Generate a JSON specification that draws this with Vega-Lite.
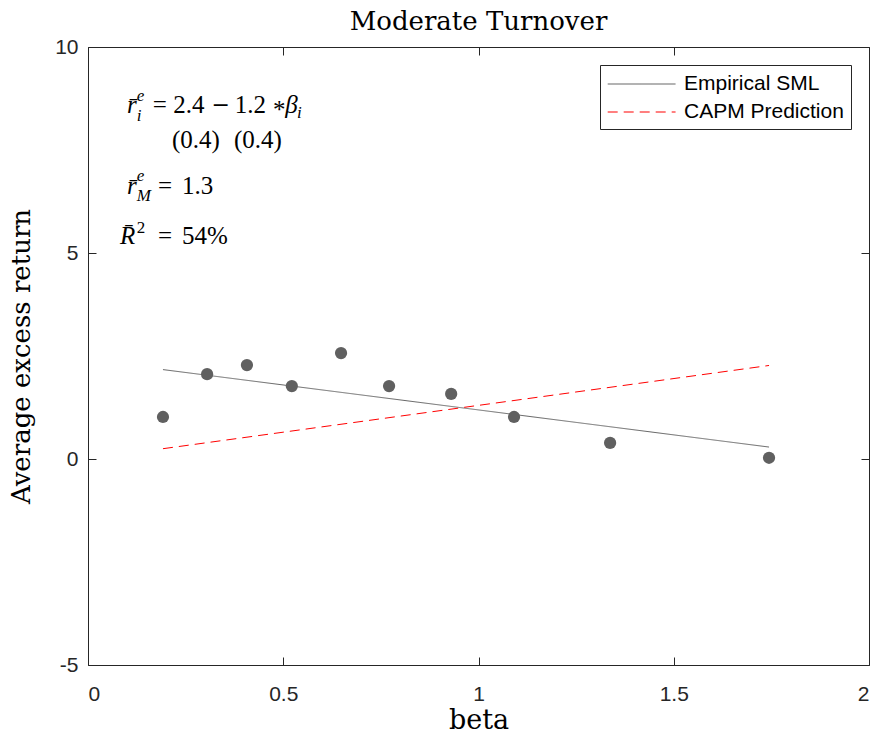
{
  "$schema": "https://vega.github.io/schema/vega-lite/v6.json",
  "autosize": "none",
  "width": 781,
  "height": 618,
  "padding": {"left": 88, "top": 47, "right": 12, "bottom": 73},
  "background": "white",
  "title": {"text": "Moderate Turnover", "font": "DejaVu Serif", "fontSize": 26, "fontWeight": "normal", "color": "black", "offset": 1},
  "config": {
    "view": {"stroke": null},
    "axis": {"grid": false, "domainColor": "#262626", "tickColor": "#262626", "tickSize": -8, "labelFont": "Liberation Sans", "labelFontSize": 21, "labelColor": "#262626", "titleFont": "DejaVu Serif", "titleFontSize": 26, "titleFontWeight": "normal", "titleColor": "black", "domainWidth": 1}
  },
  "datasets": {
    "pts": [
      {"beta": 0.192, "ret": 1.02},
      {"beta": 0.305, "ret": 2.06},
      {"beta": 0.407, "ret": 2.28},
      {"beta": 0.522, "ret": 1.77},
      {"beta": 0.648, "ret": 2.57},
      {"beta": 0.771, "ret": 1.77},
      {"beta": 0.930, "ret": 1.58},
      {"beta": 1.091, "ret": 1.02},
      {"beta": 1.337, "ret": 0.39},
      {"beta": 1.744, "ret": 0.03}
    ],
    "lines": [
      {"series": "Empirical SML", "beta": 0.192, "ret": 2.17},
      {"series": "Empirical SML", "beta": 1.744, "ret": 0.29},
      {"series": "CAPM Prediction", "beta": 0.192, "ret": 0.25},
      {"series": "CAPM Prediction", "beta": 1.744, "ret": 2.27}
    ],
    "ann": [
      {"x": 0.100, "y": 8.59, "t": "r̄", "kind": "ital"},
      {"x": 0.125, "y": 8.82, "t": "e", "kind": "small"},
      {"x": 0.125, "y": 8.33, "t": "i", "kind": "small"},
      {"x": 0.166, "y": 8.59, "t": "=", "kind": "up"},
      {"x": 0.218, "y": 8.59, "t": "2.4", "kind": "up"},
      {"x": 0.316, "y": 8.59, "t": "−", "kind": "op"},
      {"x": 0.376, "y": 8.59, "t": "1.2", "kind": "up"},
      {"x": 0.474, "y": 8.59, "t": "*", "kind": "ast"},
      {"x": 0.505, "y": 8.59, "t": "β", "kind": "ital"},
      {"x": 0.535, "y": 8.40, "t": "i", "kind": "small"},
      {"x": 0.215, "y": 7.74, "t": "(0.4)", "kind": "up"},
      {"x": 0.374, "y": 7.74, "t": "(0.4)", "kind": "up"},
      {"x": 0.100, "y": 6.63, "t": "r̄", "kind": "ital"},
      {"x": 0.125, "y": 6.86, "t": "e", "kind": "small"},
      {"x": 0.125, "y": 6.38, "t": "M", "kind": "small"},
      {"x": 0.179, "y": 6.63, "t": "=", "kind": "up"},
      {"x": 0.241, "y": 6.63, "t": "1.3", "kind": "up"},
      {"x": 0.082, "y": 5.41, "t": "R̄", "kind": "ital"},
      {"x": 0.125, "y": 5.60, "t": "2", "kind": "smallup"},
      {"x": 0.179, "y": 5.41, "t": "=", "kind": "up"},
      {"x": 0.241, "y": 5.41, "t": "54%", "kind": "up"}
    ]
  },
  "resolve": {"axis": {"x": "independent", "y": "independent"}},
  "layer": [
    {
      "data": {"name": "lines"},
      "mark": {"type": "line", "strokeWidth": 1},
      "encoding": {
        "x": {"field": "beta", "type": "quantitative", "scale": {"domain": [0, 2], "nice": false, "zero": false}, "axis": {"title": "beta", "titleFontSize": 27, "values": [0, 0.5, 1, 1.5, 2], "labelExpr": "toString(datum.value)", "labelPadding": 26, "titlePadding": 3}},
        "y": {"field": "ret", "type": "quantitative", "scale": {"domain": [-5, 10], "nice": false, "zero": false}, "axis": {"title": "Average excess return", "values": [-5, 0, 5, 10], "labelExpr": "toString(datum.value)", "labelPadding": 18, "titlePadding": 20}},
        "color": {"field": "series", "type": "nominal", "scale": {"domain": ["Empirical SML", "CAPM Prediction"], "range": ["#666666", "#ff0000"]},
          "legend": {"title": null, "orient": "top-right", "offset": 18, "fillColor": "white", "strokeColor": "#262626", "padding": 7, "labelFont": "Liberation Sans", "labelFontSize": 21, "labelLimit": 400, "labelColor": "black", "symbolType": "M-1,0H5", "symbolSize": 512, "symbolStrokeWidth": 1.2, "rowPadding": 6, "labelOffset": 53}},
        "strokeDash": {"field": "series", "type": "nominal", "scale": {"domain": ["Empirical SML", "CAPM Prediction"], "range": [[1, 0], [10, 6]]}, "legend": null}
      }
    },
    {
      "data": {"name": "pts"},
      "mark": {"type": "circle", "size": 150, "color": "#606060", "opacity": 1},
      "encoding": {
        "x": {"field": "beta", "type": "quantitative", "axis": {"orient": "top", "title": null, "labels": false, "values": [0, 0.5, 1, 1.5, 2]}},
        "y": {"field": "ret", "type": "quantitative", "axis": {"orient": "right", "title": null, "labels": false, "values": [-5, 0, 5, 10]}}
      }
    },
    {
      "data": {"name": "ann"},
      "transform": [{"filter": "datum.kind === 'ital'"}],
      "mark": {"type": "text", "font": "Liberation Serif", "fontStyle": "italic", "fontSize": 25, "align": "left", "baseline": "middle", "color": "black"},
      "encoding": {"x": {"field": "x", "type": "quantitative", "axis": null}, "y": {"field": "y", "type": "quantitative", "axis": null}, "text": {"field": "t"}}
    },
    {
      "data": {"name": "ann"},
      "transform": [{"filter": "datum.kind === 'up'"}],
      "mark": {"type": "text", "font": "Liberation Serif", "fontSize": 25, "align": "left", "baseline": "middle", "color": "black"},
      "encoding": {"x": {"field": "x", "type": "quantitative", "axis": null}, "y": {"field": "y", "type": "quantitative", "axis": null}, "text": {"field": "t"}}
    },
    {
      "data": {"name": "ann"},
      "transform": [{"filter": "datum.kind === 'op'"}],
      "mark": {"type": "text", "font": "DejaVu Serif", "fontSize": 22, "align": "left", "baseline": "middle", "color": "black"},
      "encoding": {"x": {"field": "x", "type": "quantitative", "axis": null}, "y": {"field": "y", "type": "quantitative", "axis": null}, "text": {"field": "t"}}
    },
    {
      "data": {"name": "ann"},
      "transform": [{"filter": "datum.kind === 'ast'"}],
      "mark": {"type": "text", "font": "Liberation Serif", "fontSize": 25, "align": "left", "baseline": "middle", "dy": 5, "color": "black"},
      "encoding": {"x": {"field": "x", "type": "quantitative", "axis": null}, "y": {"field": "y", "type": "quantitative", "axis": null}, "text": {"field": "t"}}
    },
    {
      "data": {"name": "ann"},
      "transform": [{"filter": "datum.kind === 'small'"}],
      "mark": {"type": "text", "font": "Liberation Serif", "fontStyle": "italic", "fontSize": 17, "align": "left", "baseline": "middle", "color": "black"},
      "encoding": {"x": {"field": "x", "type": "quantitative", "axis": null}, "y": {"field": "y", "type": "quantitative", "axis": null}, "text": {"field": "t"}}
    },
    {
      "data": {"name": "ann"},
      "transform": [{"filter": "datum.kind === 'smallup'"}],
      "mark": {"type": "text", "font": "Liberation Serif", "fontSize": 17, "align": "left", "baseline": "middle", "color": "black"},
      "encoding": {"x": {"field": "x", "type": "quantitative", "axis": null}, "y": {"field": "y", "type": "quantitative", "axis": null}, "text": {"field": "t"}}
    }
  ]
}
